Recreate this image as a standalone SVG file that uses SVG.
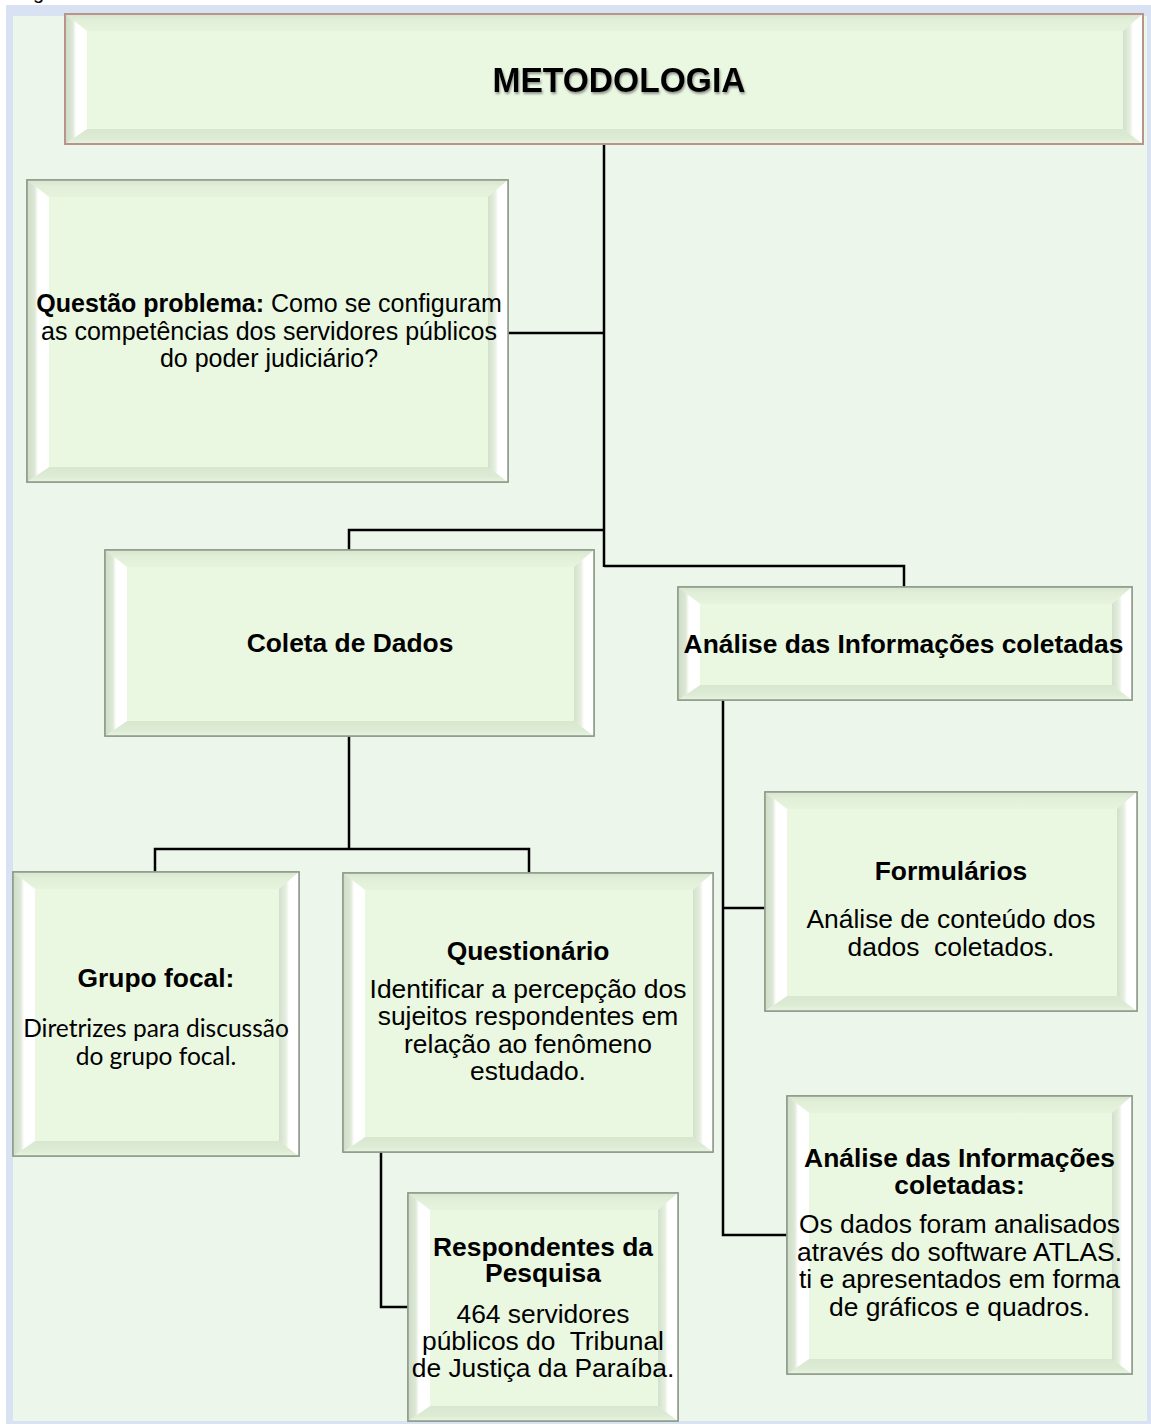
<svg xmlns="http://www.w3.org/2000/svg" width="1151" height="1424" viewBox="0 0 1151 1424">
  <defs>
    <style>
      .face { fill: #eaf7e0; stroke: #8e9a89; stroke-width: 1.5; }
      .face-top { fill: #eaf7e0; stroke: #b8958a; stroke-width: 2; }
      .bl { fill: url(#bevL); }
      .br { fill: url(#bevR); }
      .bt { fill: url(#bevT); }
      .bb { fill: url(#bevB); }
      .inner { fill: #eaf7e1; }
      .link { fill: none; stroke: #000; stroke-width: 2.5; stroke-linejoin: miter; }
      .t { font-family: "Liberation Sans", Arial, sans-serif; font-size: 25px; fill: #000; text-anchor: middle; }
      .b { font-weight: bold; }
      .cal { font-family: Lato, "Liberation Sans", sans-serif; font-size: 24.5px; fill: #000; text-anchor: middle; }
    </style>
    <linearGradient id="bevL" x1="0" y1="0" x2="1" y2="0">
      <stop offset="0" stop-color="#cedcc7"/>
      <stop offset="0.35" stop-color="#dde8d7"/>
      <stop offset="0.5" stop-color="#ffffff"/>
      <stop offset="1" stop-color="#ffffff"/>
    </linearGradient>
    <linearGradient id="bevR" x1="0" y1="0" x2="1" y2="0">
      <stop offset="0" stop-color="#d2e0cb"/>
      <stop offset="0.35" stop-color="#e6efe0"/>
      <stop offset="0.5" stop-color="#ffffff"/>
      <stop offset="1" stop-color="#ffffff"/>
    </linearGradient>
    <linearGradient id="bevT" x1="0" y1="0" x2="0" y2="1">
      <stop offset="0" stop-color="#d8e6d0"/>
      <stop offset="0.35" stop-color="#e1efd9"/>
      <stop offset="1" stop-color="#e6f4dd"/>
    </linearGradient>
    <linearGradient id="bevB" x1="0" y1="0" x2="0" y2="1">
      <stop offset="0" stop-color="#d9e7d1"/>
      <stop offset="0.6" stop-color="#dceBd4"/>
      <stop offset="1" stop-color="#e8f4e0"/>
    </linearGradient>
    <filter id="soft" x="-5%" y="-20%" width="110%" height="150%">
      <feGaussianBlur in="SourceAlpha" stdDeviation="1.2"/>
      <feOffset dx="1.5" dy="1.5" result="s"/>
      <feFlood flood-color="#555" flood-opacity="0.6"/>
      <feComposite in2="s" operator="in"/>
      <feMerge><feMergeNode/><feMergeNode in="SourceGraphic"/></feMerge>
    </filter>
  </defs>

  <!-- page frame -->
  <rect x="0" y="0" width="1151" height="1424" fill="#ffffff"/>
  <text x="33" y="-1" font-family="Liberation Sans, sans-serif" font-size="20">g</text>
  <rect x="6" y="5" width="1145" height="1419" fill="#d9e2f3"/>
  <rect x="13" y="16" width="1134" height="1405" fill="#edf6eb"/>

  <!-- connectors -->
  <g id="connectors" class="link">
    <path d="M604,144 V567"/>
    <path d="M508,333 H604"/>
    <path d="M604,530 H349 V550"/>
    <path d="M604,566 H904 V587"/>
    <path d="M349,736 V849"/>
    <path d="M155,872 V849 H529 V873"/>
    <path d="M381,1152 V1307 H408"/>
    <path d="M723,700 V1235 H787"/>
    <path d="M723,908 H765"/>
  </g>

  <!-- METODOLOGIA -->
  <g id="node-metodologia">
    <rect class="face-top" x="65" y="14" width="1078" height="130"/>
    <polygon class="bt" points="65,14 1143,14 1123,31 87,31"/>
    <polygon class="bb" points="65,144 1143,144 1123,129 87,129"/>
    <polygon class="bl" points="65,14 87,31 87,129 65,144"/>
    <polygon class="br" points="1143,14 1143,144 1123,129 1123,31"/>
    <rect class="inner" x="87" y="31" width="1036" height="98"/>
    <rect x="65" y="14" width="1078" height="130" fill="none" stroke="#b8958a" stroke-width="2"/>
    <g transform="matrix(0.96 0 0 1 24.76 0)">
      <text class="t b" x="619" y="92" style="font-size:35px" filter="url(#soft)">METODOLOGIA</text>
    </g>
  </g>

  <!-- Questão problema -->
  <g id="node-questao">
    <rect class="face" x="27" y="180" width="481" height="302"/>
    <polygon class="bt" points="27,180 508,180 488,197 49,197"/>
    <polygon class="bb" points="27,482 508,482 488,467 49,467"/>
    <polygon class="bl" points="27,180 49,197 49,467 27,482"/>
    <polygon class="br" points="508,180 508,482 488,467 488,197"/>
    <rect class="inner" x="49" y="197" width="439" height="270"/>
    <rect x="27" y="180" width="481" height="302" fill="none" stroke="#8e9a89" stroke-width="1.5"/>
    <g>
      <text class="t" x="269" y="312"><tspan class="b">Questão problema:</tspan> Como se configuram</text>
      <text class="t" x="269" y="340">as competências dos servidores públicos</text>
      <text class="t" x="269" y="367">do poder judiciário?</text>
    </g>
  </g>

  <!-- Coleta de Dados -->
  <g id="node-coleta">
    <rect class="face" x="105" y="550" width="489" height="186"/>
    <polygon class="bt" points="105,550 594,550 574,567 127,567"/>
    <polygon class="bb" points="105,736 594,736 574,721 127,721"/>
    <polygon class="bl" points="105,550 127,567 127,721 105,736"/>
    <polygon class="br" points="594,550 594,736 574,721 574,567"/>
    <rect class="inner" x="127" y="567" width="447" height="154"/>
    <rect x="105" y="550" width="489" height="186" fill="none" stroke="#8e9a89" stroke-width="1.5"/>
    <g transform="matrix(1.056 0 0 1 -19.6 0)">
      <text class="t b" x="350" y="652">Coleta de Dados</text>
    </g>
  </g>

  <!-- Análise das Informações coletadas (header) -->
  <g id="node-analise">
    <rect class="face" x="678" y="587" width="454" height="113"/>
    <polygon class="bt" points="678,587 1132,587 1112,604 700,604"/>
    <polygon class="bb" points="678,700 1132,700 1112,685 700,685"/>
    <polygon class="bl" points="678,587 700,604 700,685 678,700"/>
    <polygon class="br" points="1132,587 1132,700 1112,685 1112,604"/>
    <rect class="inner" x="700" y="604" width="412" height="81"/>
    <rect x="678" y="587" width="454" height="113" fill="none" stroke="#8e9a89" stroke-width="1.5"/>
    <g transform="matrix(1.056 0 0 1 -50.6 0)">
      <text class="t b" x="903.5" y="653">Análise das Informações coletadas</text>
    </g>
  </g>

  <!-- Grupo focal -->
  <g id="node-grupo">
    <rect class="face" x="13" y="872" width="286" height="284"/>
    <polygon class="bt" points="13,872 299,872 279,889 35,889"/>
    <polygon class="bb" points="13,1156 299,1156 279,1141 35,1141"/>
    <polygon class="bl" points="13,872 35,889 35,1141 13,1156"/>
    <polygon class="br" points="299,872 299,1156 279,1141 279,889"/>
    <rect class="inner" x="35" y="889" width="244" height="252"/>
    <rect x="13" y="872" width="286" height="284" fill="none" stroke="#8e9a89" stroke-width="1.5"/>
    <g transform="matrix(1.056 0 0 1 -8.74 0)">
      <text class="t b" x="156" y="987">Grupo focal:</text>
    </g>
    <text class="cal" x="156" y="1037">Diretrizes para discussão</text>
    <text class="cal" x="156" y="1065">do grupo focal.</text>
  </g>

  <!-- Questionário -->
  <g id="node-questionario">
    <rect class="face" x="343" y="873" width="370" height="279"/>
    <polygon class="bt" points="343,873 713,873 693,890 365,890"/>
    <polygon class="bb" points="343,1152 713,1152 693,1137 365,1137"/>
    <polygon class="bl" points="343,873 365,890 365,1137 343,1152"/>
    <polygon class="br" points="713,873 713,1152 693,1137 693,890"/>
    <rect class="inner" x="365" y="890" width="328" height="247"/>
    <rect x="343" y="873" width="370" height="279" fill="none" stroke="#8e9a89" stroke-width="1.5"/>
    <g transform="matrix(1.056 0 0 1 -29.57 0)">
      <text class="t b" x="528" y="960">Questionário</text>
      <text class="t" x="528" y="998">Identificar a percepção dos</text>
      <text class="t" x="528" y="1025">sujeitos respondentes em</text>
      <text class="t" x="528" y="1053">relação ao fenômeno</text>
      <text class="t" x="528" y="1080">estudado.</text>
    </g>
  </g>

  <!-- Respondentes da Pesquisa -->
  <g id="node-respondentes">
    <rect class="face" x="408" y="1193" width="270" height="228"/>
    <polygon class="bt" points="408,1193 678,1193 658,1210 430,1210"/>
    <polygon class="bb" points="408,1421 678,1421 658,1406 430,1406"/>
    <polygon class="bl" points="408,1193 430,1210 430,1406 408,1421"/>
    <polygon class="br" points="678,1193 678,1421 658,1406 658,1210"/>
    <rect class="inner" x="430" y="1210" width="228" height="196"/>
    <rect x="408" y="1193" width="270" height="228" fill="none" stroke="#8e9a89" stroke-width="1.5"/>
    <g transform="matrix(1.056 0 0 1 -30.41 0)">
      <text class="t b" x="543" y="1256">Respondentes da</text>
      <text class="t b" x="543" y="1282">Pesquisa</text>
      <text class="t" x="543" y="1323">464 servidores</text>
      <text class="t" x="543" y="1350" xml:space="preserve">públicos do  Tribunal</text>
      <text class="t" x="543" y="1377">de Justiça da Paraíba.</text>
    </g>
  </g>

  <!-- Formulários -->
  <g id="node-formularios">
    <rect class="face" x="765" y="792" width="372" height="219"/>
    <polygon class="bt" points="765,792 1137,792 1117,809 787,809"/>
    <polygon class="bb" points="765,1011 1137,1011 1117,996 787,996"/>
    <polygon class="bl" points="765,792 787,809 787,996 765,1011"/>
    <polygon class="br" points="1137,792 1137,1011 1117,996 1117,809"/>
    <rect class="inner" x="787" y="809" width="330" height="187"/>
    <rect x="765" y="792" width="372" height="219" fill="none" stroke="#8e9a89" stroke-width="1.5"/>
    <g transform="matrix(1.056 0 0 1 -53.26 0)">
      <text class="t b" x="951" y="880">Formulários</text>
      <text class="t" x="951" y="928">Análise de conteúdo dos</text>
      <text class="t" x="951" y="956" xml:space="preserve">dados  coletados.</text>
    </g>
  </g>

  <!-- Análise das Informações coletadas (detail) -->
  <g id="node-analise-detalhe">
    <rect class="face" x="787" y="1096" width="345" height="278"/>
    <polygon class="bt" points="787,1096 1132,1096 1112,1113 809,1113"/>
    <polygon class="bb" points="787,1374 1132,1374 1112,1359 809,1359"/>
    <polygon class="bl" points="787,1096 809,1113 809,1359 787,1374"/>
    <polygon class="br" points="1132,1096 1132,1374 1112,1359 1112,1113"/>
    <rect class="inner" x="809" y="1113" width="303" height="246"/>
    <rect x="787" y="1096" width="345" height="278" fill="none" stroke="#8e9a89" stroke-width="1.5"/>
    <g transform="matrix(1.056 0 0 1 -53.73 0)">
      <text class="t b" x="959.5" y="1167">Análise das Informações</text>
      <text class="t b" x="959.5" y="1194">coletadas:</text>
      <text class="t" x="959.5" y="1233">Os dados foram analisados</text>
      <text class="t" x="959.5" y="1261">através do software ATLAS.</text>
      <text class="t" x="959.5" y="1288">ti e apresentados em forma</text>
      <text class="t" x="959.5" y="1316">de gráficos e quadros.</text>
    </g>
  </g>
</svg>
